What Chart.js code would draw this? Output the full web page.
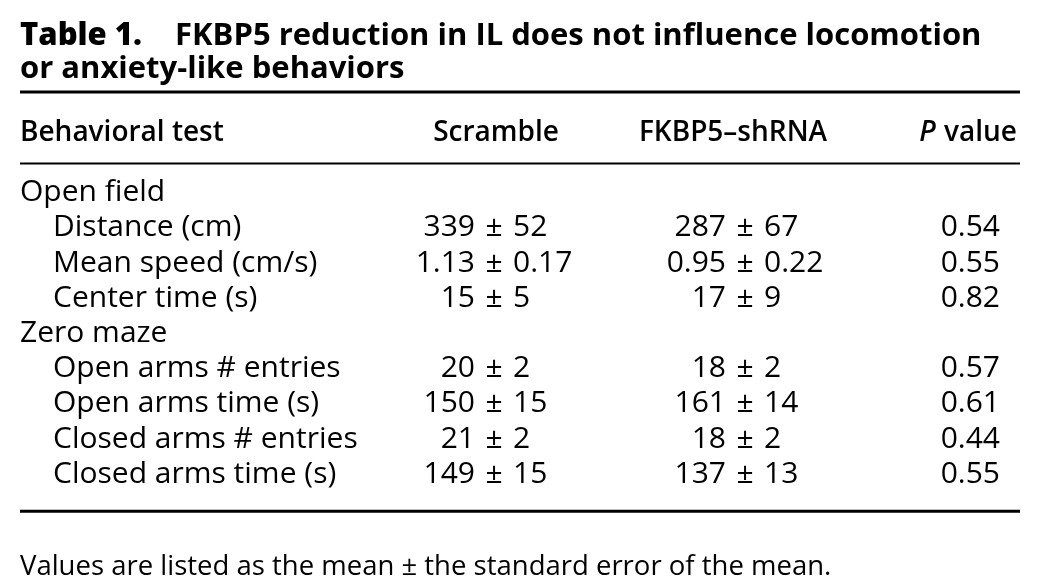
<!DOCTYPE html>
<html>
<head>
<meta charset="utf-8">
<script src="https://cdn.jsdelivr.net/npm/chart.js@4.4.1/dist/chart.umd.min.js"></script>
<style>
    html, body { margin: 0; background: #fff; }
    #wrap { width: 1040px; height: 587px; }
</style>
</head>
<body>
<div id="wrap"><canvas id="tableChart"></canvas></div>
<script>
const titleLabel = "Table 1.";
const titleLines = ["FKBP5 reduction in IL does not influence locomotion", "or anxiety-like behaviors"];
const columnHeaders = ["Behavioral test", "Scramble", "FKBP5\u2013shRNA", "P value"];
const footnote = "Values are listed as the mean \u00b1 the standard error of the mean.";

const rowLabels = [
    "Open field", "Distance (cm)", "Mean speed (cm/s)", "Center time (s)",
    "Zero maze", "Open arms # entries", "Open arms time (s)",
    "Closed arms # entries", "Closed arms time (s)"
];
const rowIsGroup = [true, false, false, false, true, false, false, false, false];
const rowDecimals = [0, 0, 2, 0, 0, 0, 0, 0, 0];
const scrambleMean = [null, 339, 1.13, 15, null, 20, 150, 21, 149];
const scrambleSem = [null, 52, 0.17, 5, null, 2, 15, 2, 15];
const shrnaMean = [null, 287, 0.95, 17, null, 18, 161, 18, 137];
const shrnaSem = [null, 67, 0.22, 9, null, 2, 14, 2, 13];
const pValues = [null, 0.54, 0.55, 0.82, null, 0.57, 0.61, 0.44, 0.55];

// layout (fraction of table width) and styling
const col = { label: 0, scramble: 0.474, shrna: 0.725, p: 0.98 };
const FONT = "'Open Sans', 'DejaVu Sans', sans-serif";
const INK = "#000";

function cells(x, values) {
    const pts = [];
    values.forEach((v, i) => { if (v !== null) pts.push({ x: x, y: i }); });
    return pts;
}

const tablePlugin = {
    id: "tableText",
    afterDatasetsDraw(chart) {
        const ctx = chart.ctx;
        const xs = chart.scales.x;
        const ys = chart.scales.y;
        const left = chart.chartArea.left;
        const right = chart.chartArea.right;
        ctx.save();
        ctx.fillStyle = INK;
        ctx.strokeStyle = INK;

        ctx.font = "30px " + FONT;
        const capH = ctx.measureText("H").actualBoundingBoxAscent;
        const base = (y) => y + capH / 2;

        // title
        ctx.textAlign = "left";
        ctx.textBaseline = "alphabetic";
        ctx.font = "800 31px " + FONT;
        ctx.fillText(titleLabel, left, ys.getPixelForValue(-4.13));
        ctx.font = "bold 31px " + FONT;
        ctx.fillText(titleLines[0], left + 155, ys.getPixelForValue(-4.13));
        ctx.fillText(titleLines[1], left, ys.getPixelForValue(-3.2));

        // rules
        const rule = (v, w) => {
            ctx.lineWidth = w;
            ctx.beginPath();
            const y = ys.getPixelForValue(v);
            ctx.moveTo(left, y);
            ctx.lineTo(right, y);
            ctx.stroke();
        };
        rule(-2.8, 3);
        rule(-0.77, 2);
        rule(9.1, 3);

        // header row
        const hy = base(ys.getPixelForValue(-1.7));
        ctx.font = "600 28px " + FONT;
        ctx.textAlign = "left";
        ctx.fillText(columnHeaders[0], left, hy);
        ctx.textAlign = "center";
        ctx.fillText(columnHeaders[1], xs.getPixelForValue(col.scramble) + 2, hy);
        ctx.fillText(columnHeaders[2], xs.getPixelForValue(col.shrna) - 12, hy);
        ctx.textAlign = "right";
        const pRight = xs.getPixelForValue(col.p) + 17;
        ctx.fillText(columnHeaders[3].slice(1), pRight, hy);
        const restW = ctx.measureText(columnHeaders[3].slice(1)).width;
        ctx.font = "italic 600 28px " + FONT;
        ctx.fillText(columnHeaders[3][0], pRight - restW - 1, hy);

        // body cells, placed at the dataset points
        ctx.font = "30px " + FONT;
        chart.data.datasets.forEach((ds, di) => {
            const meta = chart.getDatasetMeta(di);
            meta.data.forEach((pt, k) => {
                const row = ds.data[k].y;
                const y = base(pt.y);
                if (ds.kind === "label") {
                    ctx.textAlign = "left";
                    ctx.fillText(rowLabels[row], pt.x + (rowIsGroup[row] ? 0 : 33), y);
                } else if (ds.kind === "pm") {
                    const d = rowDecimals[row];
                    ctx.textAlign = "right";
                    ctx.fillText(ds.mean[row].toFixed(d), pt.x - 19, y);
                    ctx.textAlign = "center";
                    ctx.fillText("\u00b1", pt.x, y);
                    ctx.textAlign = "left";
                    ctx.fillText(ds.sem[row].toFixed(d), pt.x + 19, y);
                } else {
                    ctx.textAlign = "right";
                    ctx.fillText(pValues[row].toFixed(2), pt.x, y);
                }
            });
        });

        // footnote
        ctx.textAlign = "left";
        ctx.font = "27.5px " + FONT;
        ctx.fillText(footnote, left, ys.getPixelForValue(10.9));
        ctx.restore();
    }
};

new Chart(document.getElementById("tableChart"), {
    type: "scatter",
    data: {
        datasets: [
            { kind: "label", data: rowLabels.map((_, i) => ({ x: col.label, y: i })) },
            { kind: "pm", mean: scrambleMean, sem: scrambleSem, data: cells(col.scramble, scrambleMean) },
            { kind: "pm", mean: shrnaMean, sem: shrnaSem, data: cells(col.shrna, shrnaMean) },
            { kind: "p", data: cells(col.p, pValues) }
        ]
    },
    options: {
        responsive: true,
        maintainAspectRatio: false,
        animation: false,
        events: [],
        layout: { padding: { left: 20, right: 20, top: 173, bottom: 97 } },
        elements: { point: { radius: 0, hoverRadius: 0 } },
        plugins: {
            legend: { display: false },
            tooltip: { enabled: false }
        },
        scales: {
            x: { type: "linear", min: 0, max: 1, display: false },
            y: { type: "linear", min: -0.5, max: 8.5, reverse: true, display: false }
        }
    },
    plugins: [tablePlugin]
});
</script>
</body>
</html>
